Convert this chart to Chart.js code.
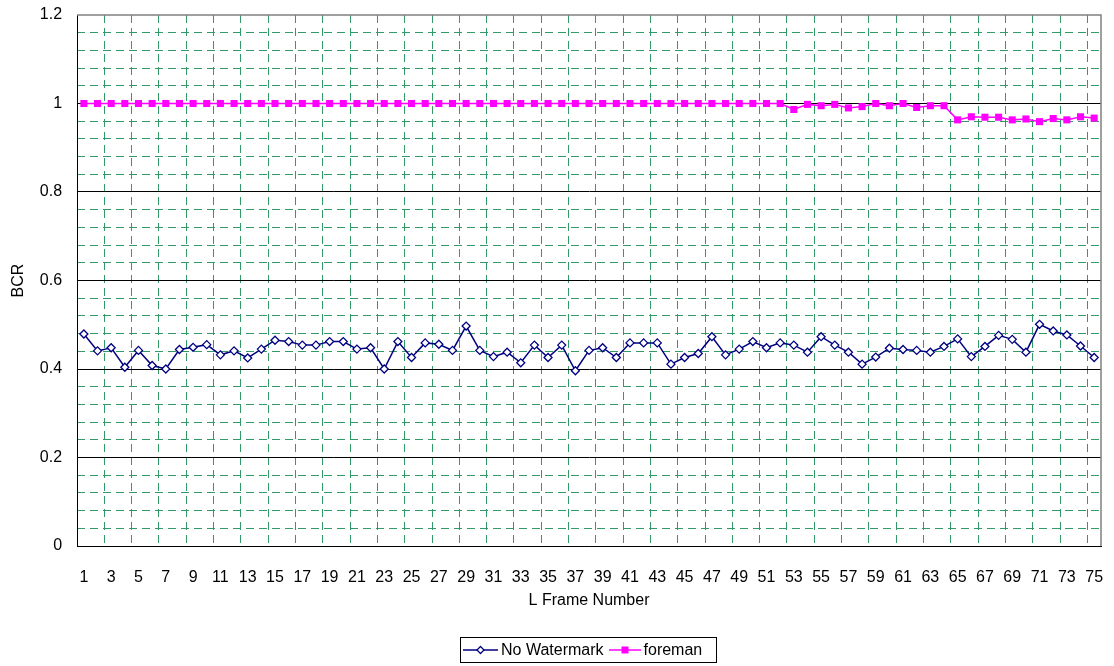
<!DOCTYPE html>
<html>
<head>
<meta charset="utf-8">
<script src="https://cdn.jsdelivr.net/npm/chart.js@4.4.1/dist/chart.umd.min.js"></script>
<style>
    html, body { margin: 0; padding: 0; background: #fff; }
    #wrap { position: relative; width: 1114px; height: 666px; }
    #legend {
        position: absolute; left: 460px; top: 637px; width: 255px; height: 24px;
        border: 1px solid #000; box-sizing: content-box;
        font: 16px "Liberation Sans", Arial, sans-serif; color: #000;
        display: flex; align-items: center; white-space: nowrap;
    }
    #legend span.item { display: flex; align-items: center; }
    #legend span.first { margin-left: 2px; }
    #legend span.second { margin-left: 5px; }
    #legend svg { margin-right: 3px; }
</style>
</head>
<body>
<div id="wrap">
    <canvas id="bcrChart" width="1114" height="666"></canvas>
    <div id="legend">
        <span class="item first">
            <svg width="35" height="10"><line x1="0" y1="5" x2="35" y2="5" stroke="#000080" stroke-width="1.5"/><path d="M17.5 1.5 L21 5 L17.5 8.5 L14 5 Z" fill="#fff" stroke="#000080" stroke-width="1.3"/></svg>No Watermark
        </span>
        <span class="item second">
            <svg width="32" height="10"><line x1="0" y1="5" x2="32" y2="5" stroke="#ff00ff" stroke-width="1.5"/><rect x="12.5" y="1.5" width="7" height="7" fill="#ff00ff"/></svg>foreman
        </span>
    </div>
</div>
<script>
// x categories: frame numbers 1..75
const frameLabels = ['1','2','3','4','5','6','7','8','9','10','11','12','13','14','15','16','17','18','19','20',
    '21','22','23','24','25','26','27','28','29','30','31','32','33','34','35','36','37','38','39','40',
    '41','42','43','44','45','46','47','48','49','50','51','52','53','54','55','56','57','58','59','60',
    '61','62','63','64','65','66','67','68','69','70','71','72','73','74','75'];

const noWatermark = [0.479, 0.441, 0.448, 0.404, 0.442, 0.408, 0.400, 0.444, 0.449, 0.455,
    0.432, 0.441, 0.425, 0.445, 0.465, 0.462, 0.454, 0.454, 0.462, 0.462,
    0.445, 0.448, 0.400, 0.462, 0.426, 0.459, 0.456, 0.442, 0.497, 0.442,
    0.428, 0.438, 0.414, 0.454, 0.426, 0.454, 0.396, 0.442, 0.448, 0.426,
    0.459, 0.459, 0.459, 0.411, 0.426, 0.435, 0.473, 0.432, 0.445, 0.462,
    0.448, 0.459, 0.454, 0.438, 0.473, 0.454, 0.438, 0.411, 0.427, 0.447,
    0.444, 0.442, 0.438, 0.451, 0.468, 0.428, 0.451, 0.476, 0.467, 0.438,
    0.501, 0.486, 0.477, 0.452, 0.426];

const foreman = [1, 1, 1, 1, 1, 1, 1, 1, 1, 1,
    1, 1, 1, 1, 1, 1, 1, 1, 1, 1,
    1, 1, 1, 1, 1, 1, 1, 1, 1, 1,
    1, 1, 1, 1, 1, 1, 1, 1, 1, 1,
    1, 1, 1, 1, 1, 1, 1, 1, 1, 1,
    1, 1, 0.9865, 0.998, 0.995, 0.998, 0.990, 0.993, 1.0, 0.995,
    1.0, 0.991, 0.995, 0.995, 0.963, 0.970, 0.969, 0.969, 0.963, 0.965,
    0.959, 0.966, 0.963, 0.970, 0.967];

const yTicks = [0, 0.2, 0.4, 0.6, 0.8, 1, 1.2];

const FONT = { family: '"Liberation Sans", Arial, sans-serif', size: 16 };
const GRID_GREEN = '#339966';
const NONE = 'rgba(0,0,0,0)';
const DASH = [8, 5];

// grey frame on top and right of the plot, like Excel
const plotFrame = {
    id: 'plotFrame',
    beforeDatasetsDraw(chart) {
        const { ctx, chartArea: a } = chart;
        ctx.save();
        ctx.strokeStyle = '#808080';
        ctx.lineWidth = 1.5;
        ctx.beginPath();
        ctx.moveTo(a.left, a.top);
        ctx.lineTo(a.right, a.top);
        ctx.lineTo(a.right, a.bottom);
        ctx.stroke();
        ctx.restore();
    }
};

function isMajor(v) {
    return Math.abs(v / 0.2 - Math.round(v / 0.2)) < 1e-6;
}

const ctx = document.getElementById('bcrChart');
new Chart(ctx, {
    type: 'line',
    data: {
        labels: frameLabels,
        datasets: [{
            label: 'No Watermark',
            data: noWatermark,
            borderColor: '#000080',
            borderWidth: 1.5,
            pointStyle: 'rectRot',
            pointRadius: 4,
            pointBorderWidth: 1.3,
            pointBackgroundColor: '#ffffff',
            pointBorderColor: '#000080',
            tension: 0
        }, {
            label: 'foreman',
            data: foreman,
            borderColor: '#ff00ff',
            borderWidth: 1.5,
            pointStyle: 'rect',
            pointRadius: 5,
            pointBorderWidth: 0,
            pointBackgroundColor: '#ff00ff',
            pointBorderColor: '#ff00ff',
            tension: 0
        }]
    },
    options: {
        responsive: false,
        animation: false,
        layout: { padding: { left: 3, right: 13, top: 15, bottom: 55.4 } },
        plugins: {
            legend: { display: false },
            tooltip: { enabled: false }
        },
        scales: {
            x: {
                type: 'category',
                offset: true,
                grid: {
                    offset: true,
                    drawTicks: true,
                    tickLength: 20.4,
                    tickColor: NONE,
                    lineWidth: 1,
                    color: (c) => (c.index > 0 && c.index < frameLabels.length && c.index % 2 === 0) ? GRID_GREEN : NONE
                },
                border: { color: '#000', width: 1, dash: DASH },
                ticks: {
                    autoSkip: false,
                    maxRotation: 0,
                    padding: 2,
                    color: '#000',
                    font: FONT,
                    callback: function (val, i) { return i % 2 === 0 ? frameLabels[i] : ''; }
                },
                title: {
                    display: true,
                    text: 'L Frame Number',
                    color: '#000',
                    font: FONT,
                    padding: { top: 1.8, bottom: 0 }
                }
            },
            y: {
                min: 0,
                max: 1.2,
                afterBuildTicks: (axis) => { axis.ticks = yTicks.map(v => ({ value: v })); },
                grid: {
                    drawTicks: true,
                    tickLength: 10,
                    tickColor: NONE,
                    color: (c) => (c.tick && c.tick.value >= 1.2) ? NONE : '#000',
                    lineWidth: 1
                },
                border: { color: '#000', width: 1 },
                ticks: {
                    padding: 5,
                    color: '#000',
                    font: FONT,
                    callback: (v) => String(Math.round(v * 10) / 10)
                },
                title: {
                    display: true,
                    text: 'BCR',
                    color: '#000',
                    font: FONT,
                    padding: { top: 6.4, bottom: 6.2 }
                }
            },
            yMinor: {
                position: 'left',
                min: 0,
                max: 1.2,
                ticks: { display: false, stepSize: 0.04 },
                grid: {
                    drawTicks: false,
                    lineWidth: 1,
                    color: (c) => (c.tick && isMajor(c.tick.value)) ? NONE : GRID_GREEN
                },
                border: { display: false, dash: DASH }
            }
        }
    },
    plugins: [plotFrame]
});
</script>
</body>
</html>
